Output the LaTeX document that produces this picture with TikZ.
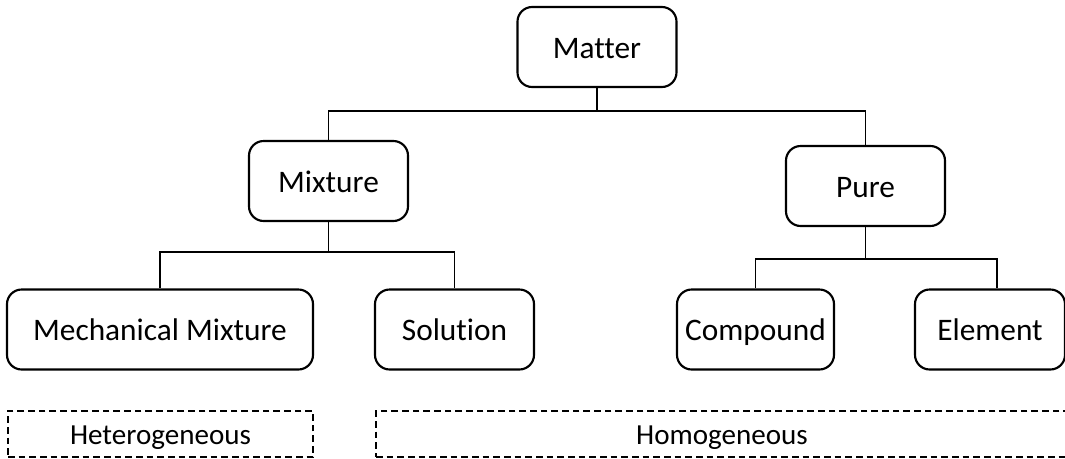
\documentclass[tikz,border=0pt]{standalone}
\usepackage{fontspec}
\setmainfont[Ligatures=NoCommon]{Carlito}
\usetikzlibrary{calc,backgrounds}

\begin{document}
\begin{tikzpicture}[%
    x=0.75pt,y=-0.75pt,%
    show background rectangle,%
    tight background,%
    background rectangle/.style={fill=white}%
    ]
    % Classification de la matière

    %
    % Définitions
    %
    \pgfmathsetmacro{\px}{0.75};% 1 px en pt
    \pgfmathsetmacro{\ya}{47};%
    \pgfmathsetmacro{\yb}{181};%
    \pgfmathsetmacro{\ybb}{186};%
    \pgfmathsetmacro{\yc}{329.5};%
    \pgfmathsetmacro{\yd}{434};%
    \pgfmathsetmacro{\yba}{111};%
    \pgfmathsetmacro{\ybm}{252};%
    \pgfmathsetmacro{\ybp}{259};%

    %
    % Styles
    %
    \tikzset{boite/.style={draw,line width=1.6pt,rounded corners=11pt,%
        inner sep=0pt,minimum height=80*\px pt,minimum width=159*\px pt,%
        text height=21.5pt,text depth=5pt,%
        font=\fontsize{23.5}{28}\selectfont}};%
    \tikzset{etat/.style={draw,line width=1.1pt,dash pattern=on 5pt off 3pt,%
        inner sep=0pt,minimum height=46*\px pt,%
        text height=19.5pt,text depth=4.5pt,%
        font=\fontsize{21.8}{26}\selectfont}};%
    \tikzset{lien/.style={line width=1.3pt}};%

    % Cadre
    \useasboundingbox (0,0) rectangle (1065,458);%

    %
    % Dessin
    %
    % Boîtes
    \node[boite] (matter) at (597,\ya) {Matter};%
    \node[boite] (mixture) at (328.5,\yb) {Mixture};%
    \node[boite] (pure) at (865.5,\ybb) {Pure};%
    \node[boite,minimum width=306*\px pt] (mech) at (160,\yc) {Mechanical Mixture};%
    \node[boite] (solution) at (454.5,\yc) {Solution};%
    \node[boite,minimum width=157*\px pt] (compound) at (755.5,\yc) {Compound};%
    \node[boite,minimum width=150*\px pt] (element) at (990,\yc) {Element};%

    % États
    \node[etat,minimum width=305*\px pt] (hetero) at (160.5,\yd) {Heterogeneous};%
    \node[etat,minimum width=692*\px pt] (homo) at (722,\yd) {Homogeneous};%

    % Liens
    \coordinate (ja) at (matter.south |- 0,\yba);%
    \coordinate (jm) at (mixture.south |- 0,\ybm);%
    \coordinate (jp) at (pure.south |- 0,\ybp);%
    \coordinate (je) at ($(element.north)+(7,0)$);%
    \draw[lien] (matter.south) -- (ja);%
    \draw[lien] (mixture.north) |- (ja) -| (pure.north);%
    \draw[lien] (mixture.south) -- (jm);%
    \draw[lien] (mech.north) |- (jm) -| (solution.north);%
    \draw[lien] (pure.south) -- (jp);%
    \draw[lien] (compound.north) |- (jp) -| (je);%

\end{tikzpicture}
\end{document}
